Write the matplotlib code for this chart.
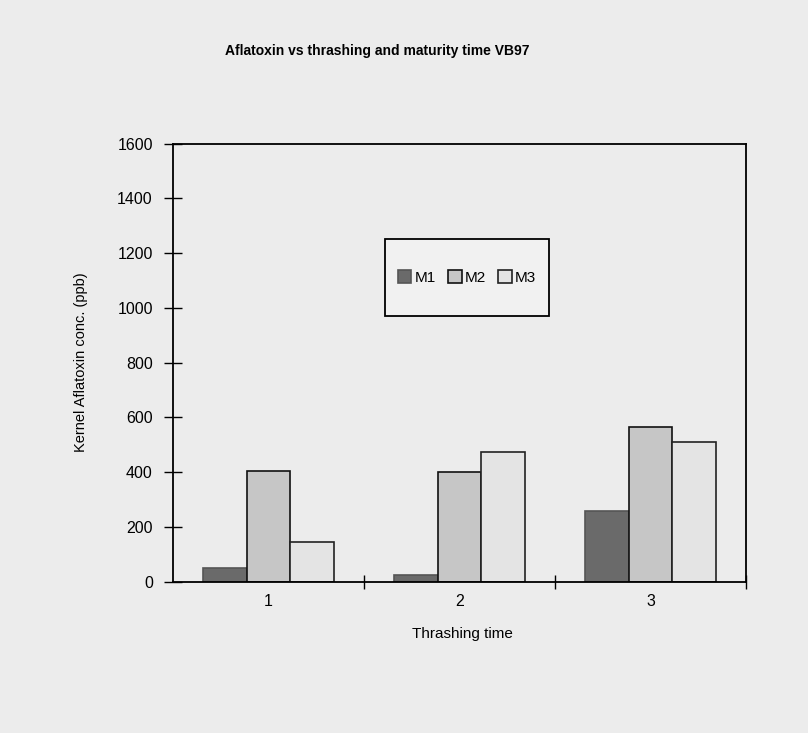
import matplotlib
matplotlib.use("Agg")
import matplotlib.pyplot as plt
from matplotlib.patches import Rectangle
import numpy as np

plt.rcParams['font.family'] = ['Liberation Sans', 'DejaVu Sans']

groups = ["1", "2", "3"]
series = ["M1", "M2", "M3"]
M1 = [50, 25, 260]
M2 = [405, 400, 565]
M3 = [145, 475, 510]
yticks = [0, 200, 400, 600, 800, 1000, 1200, 1400, 1600]
colors = ["#6a6a6a", "#c6c6c6", "#e4e4e4"]
edges = ["#555555", "#111111", "#222222"]

bg = "#ececec"
fig = plt.figure(figsize=(8.08, 7.33), dpi=100, facecolor=bg)
ax = fig.add_axes([0.2141, 0.2064, 0.7092, 0.5977])
ax.set_facecolor(bg)

x = np.arange(len(groups))
w = 0.228
for i, (vals, name) in enumerate(zip([M1, M2, M3], series)):
    ax.bar(x + (i - 1) * w, vals, width=w, color=colors[i], edgecolor=edges[i],
           linewidth=1.2, label=name, zorder=2)

ax.set_xlim(-0.5, 2.5)
ax.set_ylim(0, 1600)
ax.set_yticks(yticks)
ax.set_xticks(x)
ax.set_xticklabels(groups)
ax.set_xticks([0.5, 1.5, 2.5], minor=True)
ax.tick_params(axis='x', which='major', length=0, pad=9, labelsize=11.5)
ax.tick_params(axis='x', which='minor', direction='inout', length=10, width=1)
ax.tick_params(axis='y', direction='inout', length=13, width=1, pad=8, labelsize=11.5)

for s in ax.spines.values():
    s.set_color("black")
    s.set_linewidth(1.3)

ax.set_ylabel("Kernel Aflatoxin conc. (ppb)", fontsize=10.5)
ax.yaxis.set_label_coords(-0.148, 0.5)
ax.set_xlabel("Thrashing time", fontsize=11)
ax.xaxis.set_label_coords(0.505, -0.104)

fig.text(0.467, 0.931, "Aflatoxin vs thrashing and maturity time VB97",
         ha='center', va='center', fontsize=10, fontweight='bold')

box = Rectangle((0.370, 0.607), 0.286, 0.175, transform=ax.transAxes,
                facecolor="#f1f1f1", edgecolor="black", linewidth=1.3, zorder=3)
ax.add_patch(box)
leg = ax.legend(loc='center', bbox_to_anchor=(0.513, 0.694), ncol=3,
                fontsize=11, frameon=False, borderpad=0,
                handlelength=0.9, handleheight=0.9, handletextpad=0.2,
                columnspacing=0.8, borderaxespad=0)
leg.set_zorder(4)

fig.savefig("out.png", dpi=100, facecolor=bg)
